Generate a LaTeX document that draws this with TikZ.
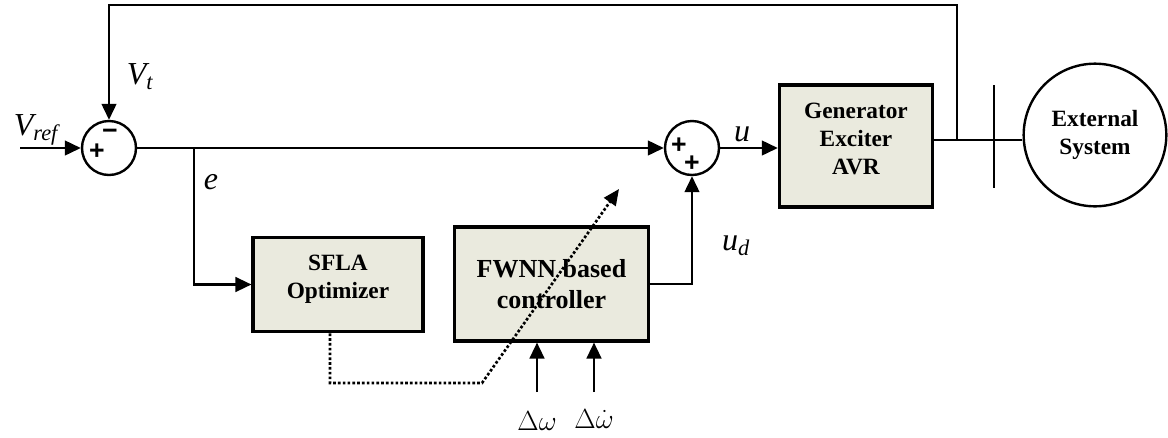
\documentclass[tikz,border=0pt]{standalone}
\usepackage{fontspec}
\setmainfont{Liberation Serif}
\newfontfamily\signfont{Liberation Sans}
\usetikzlibrary{arrows.meta}
\definecolor{blockfill}{HTML}{EAEADE}

\begin{document}
\begin{tikzpicture}[
  x=0.75pt,
  y=-0.75pt,
  line join=miter,
  block/.style={draw,line width=2.3pt,fill=blockfill,align=center,inner sep=0pt,font=\fontsize{17.5}{21}\selectfont\bfseries},
  sumnode/.style={draw,circle,line width=1.8pt,minimum size=40.5pt,inner sep=0pt},
  extsys/.style={draw,circle,line width=1.8pt,minimum size=107pt,align=center,inner sep=0pt,font=\fontsize{17.5}{21}\selectfont\bfseries},
  wire/.style={draw,line width=1.8pt},
  signal/.style={wire,-{Triangle[length=12pt,width=11pt]}},
  tuning/.style={draw,line width=2pt,dash pattern=on 2pt off 1.6pt,-{Triangle[length=12pt,width=10.5pt]}},
  sign/.style={inner sep=0pt,font=\signfont\fontsize{20}{20}\selectfont\bfseries},
  varlabel/.style={inner sep=0pt,font=\fontsize{24}{28}\selectfont\itshape},
  speedlabel/.style={inner sep=0pt,font=\fontsize{20}{24}\selectfont}
]
  \useasboundingbox (0,0) rectangle (1168,437);

  \node[sumnode] (S1) at (109,148) {};
  \node[sumnode] (S2) at (692,148) {};
  \node[block,minimum width=127.5pt,minimum height=71pt] (SFLA) at (338,284.5) {SFLA\\Optimizer\\[-10pt]\mbox{}};
  \node[block,minimum width=145pt,minimum height=85.5pt,font=\fontsize{19.5}{23}\selectfont\bfseries] (FWNN) at (551.5,284) {FWNN based\\controller};
  \node[block,minimum width=115pt,minimum height=91.5pt] (GEN) at (856,146) {Generator\\Exciter\\AVR\\[-10pt]\mbox{}};
  \node[extsys] (EXT) at (1095,135) {External\\System};

  \coordinate (vin) at (20,148);
  \coordinate (eB) at (194,148);
  \coordinate (tap) at (957,140);
  \coordinate (fbR) at (957,5);
  \coordinate (fbL) at (109,5);
  \coordinate (busT) at (994,85);
  \coordinate (busB) at (994,188);
  \coordinate (dotC) at (482,383);
  \coordinate (dotTip) at (619,189);
  \coordinate (dwin) at (537,392);
  \coordinate (ddwin) at (594,392);

  \draw[signal] (vin) -- (S1.west);
  \draw[signal] (S1.east) -- (S2.west);
  \draw[signal] (eB) |- (SFLA.west);
  \draw[signal] (FWNN.east) -| (S2.south);
  \draw[signal] (S2.east) -- (GEN.west |- S2.east);
  \draw[wire] (GEN.east |- tap) -- (EXT.west |- tap);
  \draw[signal] (tap) -- (fbR) -- (fbL) -- (S1.north);
  \draw[wire] (busT) -- (busB);
  \draw[tuning] ([xshift=-6pt]SFLA.south) |- (dotC) -- (dotTip);
  \draw[signal] (dwin) -- (dwin |- FWNN.south);
  \draw[signal] (ddwin) -- (ddwin |- FWNN.south);

  \node[sign] (S1m) at (110,134) {−};
  \node[sign] (S1p) at (97,152) {+};
  \node[sign] (S2pa) at (679,146) {+};
  \node[sign] (S2pb) at (692,164) {+};

  \node[varlabel] (Vt) at (140,77) {V\textsubscript{t}};
  \node[varlabel] (Vref) at (36,130) {V\textsubscript{ref}};
  \node[varlabel] (elab) at (211,182) {e};
  \node[varlabel] (ulab) at (742,134) {u};
  \node[varlabel] (udlab) at (736,246) {u\textsubscript{d}};
  \node[speedlabel] (dwlab) at (537,421) {$\Delta\omega$};
  \node[speedlabel] (ddwlab) at (594,419) {$\Delta\dot{\omega}$};
\end{tikzpicture}
\end{document}
